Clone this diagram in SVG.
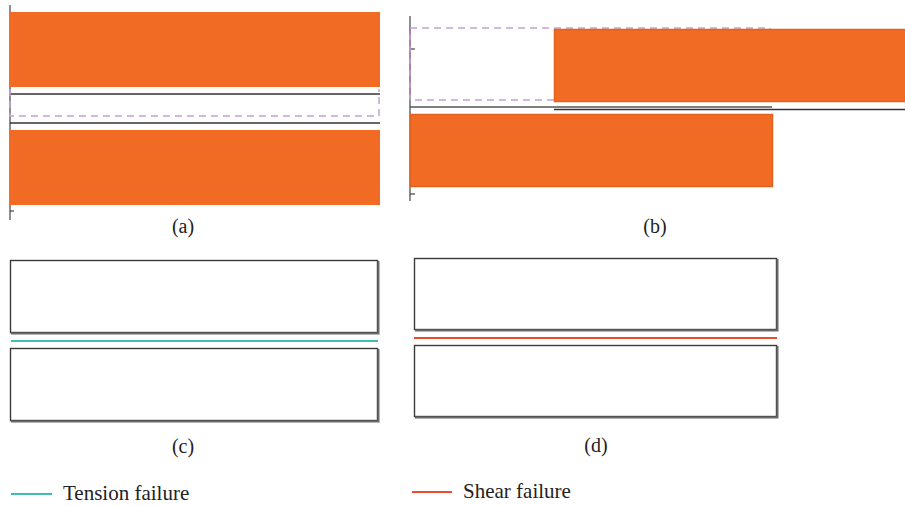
<svg xmlns="http://www.w3.org/2000/svg" width="905" height="506" viewBox="0 0 905 506">
  <style>
    .block { fill: #F26B24; }
    .block-edge { fill: #F26B24; stroke: #E2611E; stroke-width: 1.5; }
    .axis { stroke: #444; stroke-width: 1.2; fill: none; }
    .joint { stroke: #333; stroke-width: 1.5; fill: none; }
    .zone { stroke: #C4A0D4; stroke-width: 1.5; stroke-dasharray: 7 5; fill: none; }
    .box { fill: #fff; stroke: #3a3a3a; stroke-width: 1.4; }
    .shadow { stroke: #6a6a6a; stroke-width: 2; fill: none; }
    .tension { stroke: #3DBFB4; stroke-width: 2; }
    .shear { stroke: #F04A2E; stroke-width: 2; }
    .label { font-family: "Liberation Serif", "DejaVu Serif", serif; font-size: 20px; fill: #222; text-anchor: middle; }
    .legend { font-family: "Liberation Serif", "DejaVu Serif", serif; font-size: 21px; fill: #222; }
  </style>

  <!-- (a) parallel blocks with joint gap -->
  <g id="panel-a">
    <line class="axis" x1="10" y1="5" x2="10" y2="220"/>
    <line class="axis" x1="10" y1="211" x2="14" y2="211"/>
    <rect class="block" x="10" y="12" width="370" height="75"/>
    <line class="joint" x1="10" y1="94" x2="380" y2="94"/>
    <path class="zone" d="M10,89 V116 H379 V89"/>
    <line class="joint" x1="10" y1="123" x2="380" y2="123"/>
    <rect class="block" x="10" y="130" width="370" height="75"/>
    <text class="label" x="183" y="233">(a)</text>
  </g>

  <!-- (b) offset blocks under shear -->
  <g id="panel-b">
    <line class="axis" x1="410" y1="16" x2="410" y2="201"/>
    <line class="axis" x1="410" y1="49" x2="415" y2="49"/>
    <line class="axis" x1="410" y1="194" x2="415" y2="194"/>
    <rect class="zone" x="410" y="28" width="360" height="72"/>
    <line class="zone" x1="410" y1="28" x2="410" y2="100" style="stroke:#B07CC6"/>
    <rect class="block-edge" x="554.5" y="29.5" width="352" height="72"/>
    <line class="joint" x1="410" y1="107" x2="772" y2="107" style="stroke:#555"/>
    <line class="joint" x1="554" y1="109.5" x2="905" y2="109.5"/>
    <rect class="block-edge" x="410.5" y="114.5" width="362" height="72"/>
    <text class="label" x="655" y="233">(b)</text>
  </g>

  <!-- (c) tension failure -->
  <g id="panel-c">
    <rect class="box" x="10.5" y="260.5" width="367" height="72"/>
    <path class="shadow" d="M11,333.5 H378.5 V261"/>
    <line class="tension" x1="11" y1="341" x2="378" y2="341"/>
    <rect class="box" x="10.5" y="348.5" width="367" height="72"/>
    <path class="shadow" d="M11,421.5 H378.5 V349"/>
    <text class="label" x="183" y="453">(c)</text>
  </g>

  <!-- (d) shear failure -->
  <g id="panel-d">
    <rect class="box" x="414.5" y="258.5" width="362" height="71"/>
    <path class="shadow" d="M415,330.5 H777.5 V259"/>
    <line class="shear" x1="414" y1="338" x2="777" y2="338"/>
    <rect class="box" x="414.5" y="345.5" width="362" height="71"/>
    <path class="shadow" d="M415,417.5 H777.5 V346"/>
    <text class="label" x="596" y="452">(d)</text>
  </g>

  <!-- legend -->
  <g id="legend-tension">
    <line class="tension" x1="11" y1="494" x2="52" y2="494"/>
    <text class="legend" x="63" y="500">Tension failure</text>
  </g>
  <g id="legend-shear">
    <line class="shear" x1="412" y1="492" x2="452" y2="492"/>
    <text class="legend" x="463" y="498">Shear failure</text>
  </g>
</svg>
